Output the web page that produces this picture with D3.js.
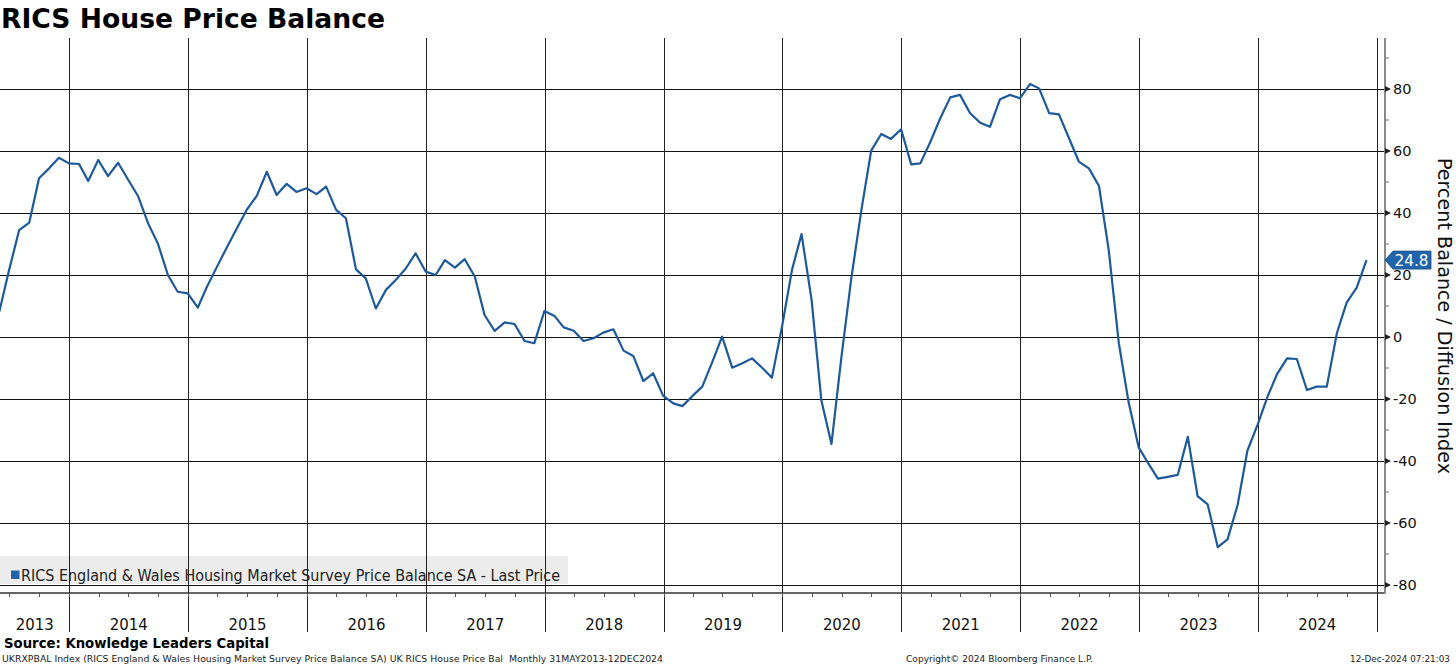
<!DOCTYPE html>
<html>
<head>
<meta charset="utf-8">
<script src="https://cdn.jsdelivr.net/npm/d3@7"></script>
<style>
  html, body { margin: 0; padding: 0; background: #ffffff; }
  svg { display: block; }
  text { font-family: "DejaVu Sans", Verdana, sans-serif; }
</style>
</head>
<body>
<svg id="chart" width="1456" height="666"></svg>
<script>
// ---------------- DATA ----------------
const title = "RICS House Price Balance";
const seriesName = "RICS England & Wales Housing Market Survey Price Balance SA - Last Price";
const axisTitle = "Percent Balance / Diffusion Index";
const sourceText = "Source: Knowledge Leaders Capital";
const footerLeft = "UKRXPBAL Index (RICS England & Wales Housing Market Survey Price Balance SA) UK RICS House Price Bal  Monthly 31MAY2013-12DEC2024";
const footerMid = "Copyright\u00A9 2024 Bloomberg Finance L.P.";
const footerRight = "12-Dec-2024 07:21:03";

// first observation: month-end May 2013, monthly thereafter
const firstObs = { year: 2013, month: 5 };
const values = [
  8.2, 21.6, 34.5, 36.9, 51.2, 54.4, 57.8, 56.0,            // May-Dec 2013
  55.8, 50.3, 57.1, 51.9, 56.2, 50.9, 45.5, 36.7, 30.2, 20.0, 14.6, 14.1,   // 2014
  9.5, 16.2, 22.7, 28.9, 35.1, 41.0, 45.5, 53.3, 45.8, 49.4, 46.8, 48.0,    // 2015
  46.1, 48.5, 41.0, 38.3, 21.8, 18.9, 9.2, 15.2, 18.4, 22.1, 27.0, 21.1,    // 2016
  20.0, 24.8, 22.4, 25.1, 19.5, 7.1, 2.0, 4.7, 4.2, -1.3, -2.0, 8.4,        // 2017
  6.8, 3.1, 2.0, -1.3, -0.4, 1.4, 2.5, -4.4, -6.1, -14.2, -11.7, -19.0,     // 2018
  -21.4, -22.3, -19.0, -16.0, -8.0, 0.1, -9.9, -8.5, -6.9, -9.9, -13.1, 3.3, // 2019
  21.8, 33.2, 11.9, -20.5, -34.5, -7.0, 19.0, 41.0, 60.1, 65.5, 63.9, 67.0, // 2020
  55.7, 56.0, 63.0, 70.5, 77.3, 78.1, 72.2, 69.1, 67.8, 76.7, 78.1, 77.0,   // 2021
  81.6, 80.2, 72.2, 71.8, 64.1, 56.6, 54.4, 48.7, 28.0, -2.0, -21.0, -35.6, // 2022
  -41.0, -45.7, -45.1, -44.5, -32.2, -51.3, -54.0, -67.8, -65.3, -54.2, -36.7, -28.4, // 2023
  -19.2, -12.0, -6.9, -7.1, -17.1, -16.0, -16.0, 1.2, 11.1, 15.9, 24.8      // Jan-Nov 2024
];
const yearLabels = ["2013","2014","2015","2016","2017","2018","2019","2020","2021","2022","2023","2024"];
const yMajorTicks = [-80, -60, -40, -20, 0, 20, 40, 60, 80];
const yMinorTicks = [-70, -50, -30, -10, 10, 30, 50, 70, 90];
const lastValueLabel = "24.8";

// ---------------- LAYOUT ----------------
const W = 1456, H = 666;
const plotTop = 38, plotBottom = 593, frameRight = 1385;
const lineColor = "#1d5a9a";

const svg = d3.select("#chart");
svg.append("rect").attr("width", W).attr("height", H).attr("fill", "#fff");

const dates = values.map((v, i) => new Date(firstObs.year, firstObs.month + i, 0));
const data = values.map((v, i) => ({ date: dates[i], value: v }));

const x = d3.scaleTime()
  .domain([new Date(2014, 0, 1), new Date(2025, 0, 1)])
  .range([69.3, 1376.9]);
const y = d3.scaleLinear().domain([-80, 80]).range([585, 89]);

// legend background (under grid)
svg.append("rect")
  .attr("x", 0).attr("y", 556).attr("width", 568).attr("height", 28)
  .attr("fill", "#ececec");

// horizontal gridlines
svg.append("g").selectAll("line").data(yMajorTicks).join("line")
  .attr("x1", 0).attr("x2", frameRight)
  .attr("y1", d => Math.round(y(d)) + 0.5).attr("y2", d => Math.round(y(d)) + 0.5)
  .attr("stroke", "#111").attr("stroke-width", 1);

// year separators
const yearStarts = d3.range(2014, 2026).map(yr => new Date(yr, 0, 1));
svg.append("g").selectAll("line").data(yearStarts).join("line")
  .attr("x1", d => Math.round(x(d)) + 0.5).attr("x2", d => Math.round(x(d)) + 0.5)
  .attr("y1", plotTop).attr("y2", 632)
  .attr("stroke", "#222").attr("stroke-width", 1);

// bottom axis line
svg.append("line")
  .attr("x1", 0).attr("x2", frameRight)
  .attr("y1", plotBottom).attr("y2", plotBottom)
  .attr("stroke", "#333").attr("stroke-width", 1.3);

// quarterly ticks
const quarters = d3.timeMonth.every(3).range(new Date(2013, 6, 1), new Date(2025, 0, 1));
svg.append("g").selectAll("line").data(quarters).join("line")
  .attr("x1", d => Math.round(x(d)) + 0.5).attr("x2", d => Math.round(x(d)) + 0.5)
  .attr("y1", plotBottom).attr("y2", plotBottom + 4)
  .attr("stroke", "#555").attr("stroke-width", 1);

// right frame
svg.append("line")
  .attr("x1", frameRight).attr("x2", frameRight)
  .attr("y1", plotTop).attr("y2", plotBottom + 0.7)
  .attr("stroke", "#8a8a8a").attr("stroke-width", 2);

// right axis ticks
const axisG = svg.append("g");
axisG.selectAll("path.maj").data(yMajorTicks).join("path")
  .attr("class", "maj")
  .attr("d", d => { const yy = y(d); return `M${frameRight},${yy - 3}L${frameRight + 6},${yy}L${frameRight},${yy + 3}Z`; })
  .attr("fill", "#222");
axisG.selectAll("line.min").data(yMinorTicks).join("line")
  .attr("class", "min")
  .attr("x1", frameRight).attr("x2", frameRight + 4)
  .attr("y1", d => y(d)).attr("y2", d => y(d))
  .attr("stroke", "#777").attr("stroke-width", 1);
axisG.selectAll("text").data(yMajorTicks).join("text")
  .attr("x", 1393).attr("y", d => y(d)).attr("dy", "0.36em")
  .attr("font-size", 14.5).attr("fill", "#111")
  .text(d => d);

// year labels
svg.append("g").selectAll("text").data(yearLabels).join("text")
  .attr("x", (d, i) => {
    const yr = +d;
    const a = Math.max(0, x(new Date(yr, 0, 1)));
    const b = x(new Date(yr + 1, 0, 1));
    return (a + b) / 2;
  })
  .attr("y", 630)
  .attr("text-anchor", "middle")
  .attr("font-size", 16.5).attr("fill", "#111")
  .attr("textLength", 38).attr("lengthAdjust", "spacingAndGlyphs")
  .text(d => d);

// series line
const line = d3.line().x(d => x(d.date)).y(d => y(d.value));
svg.append("path").datum(data)
  .attr("d", line)
  .attr("fill", "none").attr("stroke", lineColor)
  .attr("stroke-width", 2.2).attr("stroke-linejoin", "round");

// last value tag
const last = data[data.length - 1];
const ty = y(last.value);
svg.append("path")
  .attr("d", `M${frameRight},${ty}L${frameRight + 8},${ty - 9}L${frameRight + 46},${ty - 9}L${frameRight + 46},${ty + 9}L${frameRight + 8},${ty + 9}Z`)
  .attr("fill", "#2264aa").attr("stroke", "#1a4f88").attr("stroke-width", 0.8);
svg.append("text")
  .attr("x", frameRight + 26.5).attr("y", ty).attr("dy", "0.36em")
  .attr("text-anchor", "middle").attr("font-size", 15).attr("fill", "#fff")
  .attr("textLength", 34).attr("lengthAdjust", "spacingAndGlyphs")
  .text(lastValueLabel);

// legend
svg.append("rect").attr("x", 11).attr("y", 570.5).attr("width", 8.5).attr("height", 8.5).attr("fill", "#2264aa");
svg.append("text")
  .attr("x", 21).attr("y", 580.5)
  .attr("font-size", 15).attr("fill", "#222")
  .attr("textLength", 539).attr("lengthAdjust", "spacingAndGlyphs")
  .text(seriesName);

// axis title (rotated clockwise)
svg.append("text")
  .attr("transform", "translate(1438,316) rotate(90)")
  .attr("text-anchor", "middle")
  .attr("font-size", 19).attr("fill", "#111")
  .attr("textLength", 316).attr("lengthAdjust", "spacingAndGlyphs")
  .text(axisTitle);

// title
svg.append("text")
  .attr("x", 1).attr("y", 28.3)
  .attr("font-size", 26).attr("font-weight", "bold").attr("fill", "#000")
  .attr("textLength", 384).attr("lengthAdjust", "spacingAndGlyphs")
  .text(title);

// source
svg.append("text")
  .attr("x", 4).attr("y", 647.7)
  .attr("font-size", 14.5).attr("font-weight", "bold").attr("fill", "#000")
  .attr("textLength", 265).attr("lengthAdjust", "spacingAndGlyphs")
  .text(sourceText);

// footer
svg.append("text").attr("x", 2).attr("y", 662).attr("font-size", 9.5).attr("fill", "#222")
  .style("white-space", "pre")
  .attr("textLength", 661).attr("lengthAdjust", "spacingAndGlyphs").text(footerLeft);
svg.append("text").attr("x", 906).attr("y", 662).attr("font-size", 9.5).attr("fill", "#222")
  .attr("textLength", 187).attr("lengthAdjust", "spacingAndGlyphs").text(footerMid);
svg.append("text").attr("x", 1350).attr("y", 662).attr("font-size", 9.5).attr("fill", "#222")
  .attr("textLength", 100).attr("lengthAdjust", "spacingAndGlyphs").text(footerRight);
</script>
</body>
</html>
